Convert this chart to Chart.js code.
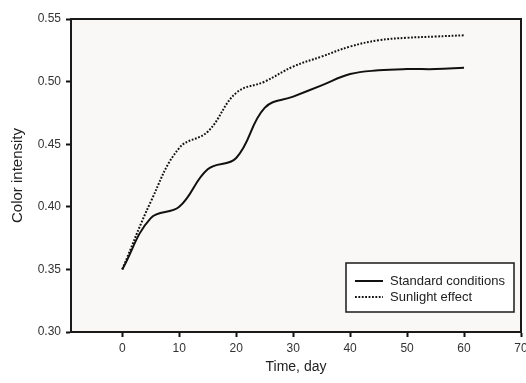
<!DOCTYPE html>
<html>
<head>
<meta charset="utf-8">
<script src="https://cdn.jsdelivr.net/npm/chart.js@4/dist/chart.umd.min.js"></script>
<style>
  html, body { margin: 0; padding: 0; background: #fff; }
  #wrap { width: 526px; height: 383px; }
</style>
</head>
<body>
<div id="wrap"><canvas id="mycanvas" width="526" height="383"></canvas></div>
<script>
// data
var days = [0, 5, 10, 15, 20, 25, 30, 35, 40, 45, 50, 55, 60];
var standard = [0.350, 0.391, 0.400, 0.430, 0.439, 0.479, 0.488, 0.497, 0.506, 0.509, 0.510, 0.510, 0.511];
var sunlight = [0.350, 0.404, 0.447, 0.460, 0.491, 0.500, 0.512, 0.520, 0.528, 0.533, 0.535, 0.536, 0.537];
var xTicks = [0, 10, 20, 30, 40, 50, 60, 70];
var yTicks = [0.30, 0.35, 0.40, 0.45, 0.50, 0.55];
var seriesNames = ['Standard conditions', 'Sunlight effect'];

var fontFam = '"Liberation Sans", Arial, sans-serif';

function pts(ys) {
  var out = [];
  for (var i in days) out.push({x: days[i], y: ys[i]});
  return out;
}

// grey plot area, frame and the boxed legend inside the plot
var plotDecor = {
  id: 'plotDecor',
  beforeDatasetsDraw: function(chart) {
    var a = chart.chartArea, c = chart.ctx;
    c.save();
    c.fillStyle = '#f9f8f6';
    c.fillRect(a.left, a.top, a.right - a.left, a.bottom - a.top);
    c.restore();
  },
  afterDatasetsDraw: function(chart) {
    var a = chart.chartArea, c = chart.ctx;
    c.save();
    c.strokeStyle = '#1a1a1a';
    c.lineWidth = 2;
    c.strokeRect(a.left, a.top, a.right - a.left, a.bottom - a.top);

    // legend box
    var bx = 346, by = 263, bw = 168, bh = 49;
    c.fillStyle = '#ffffff';
    c.fillRect(bx, by, bw, bh);
    c.lineWidth = 1.5;
    c.strokeRect(bx, by, bw, bh);
    c.font = '13px ' + fontFam;
    c.textBaseline = 'middle';
    chart.data.datasets.forEach(function(ds, i) {
      var ly = by + 18 + i * 16;
      c.strokeStyle = '#111';
      c.lineWidth = 2;
      c.setLineDash(ds.borderDash || []);
      c.beginPath();
      c.moveTo(355, ly);
      c.lineTo(383, ly);
      c.stroke();
      c.setLineDash([]);
      c.fillStyle = '#222';
      c.fillText(ds.label, 390, ly);
    });
    c.restore();
  }
};

var ctx = document.getElementById('mycanvas');
var lineGraph = new Chart(ctx, {
  type: 'line',
  data: {
    datasets: [
      {
        label: seriesNames[0],
        data: pts(standard),
        borderColor: '#111',
        borderWidth: 2,
        pointRadius: 0,
        tension: 0.4,
        fill: false
      },
      {
        label: seriesNames[1],
        data: pts(sunlight),
        borderColor: '#111',
        borderWidth: 2,
        borderDash: [1.8, 1.6],
        pointRadius: 0,
        tension: 0.4,
        fill: false
      }
    ]
  },
  options: {
    responsive: false,
    animation: false,
    layout: { padding: { top: 19, right: 5, left: 0, bottom: 0 } },
    plugins: {
      legend: { display: false },
      tooltip: { enabled: false }
    },
    scales: {
      x: {
        type: 'linear',
        min: -9,
        max: 70,
        afterBuildTicks: function(s) { s.ticks = xTicks.map(function(v) { return {value: v}; }); },
        afterFit: function(s) { s.height = 51; s.paddingLeft = 0; s.paddingRight = 0; },
        grid: { drawOnChartArea: false, color: '#111', tickLength: 5, tickWidth: 2 },
        border: { display: true, color: '#111', width: 2 },
        ticks: {
          color: '#333',
          font: { family: fontFam, size: 12 },
          padding: 4,
          maxRotation: 0
        },
        title: {
          display: true,
          text: 'Time, day',
          color: '#222',
          font: { family: fontFam, size: 14 },
          padding: { top: 4, bottom: 7 }
        }
      },
      y: {
        min: 0.30,
        max: 0.55,
        afterBuildTicks: function(s) { s.ticks = yTicks.map(function(v) { return {value: v}; }); },
        afterFit: function(s) { s.width = 71; s.paddingTop = 0; s.paddingBottom = 0; },
        grid: { drawOnChartArea: false, color: '#111', tickLength: 5, tickWidth: 2 },
        border: { display: true, color: '#111', width: 2 },
        ticks: {
          color: '#333',
          font: { family: fontFam, size: 12 },
          padding: 5,
          callback: function(v) { return v.toFixed(2); }
        },
        title: {
          display: true,
          text: 'Color intensity',
          color: '#222',
          font: { family: fontFam, size: 15 },
          padding: { top: 9, bottom: 0 }
        }
      }
    }
  },
  plugins: [plotDecor]
});
</script>
</body>
</html>
